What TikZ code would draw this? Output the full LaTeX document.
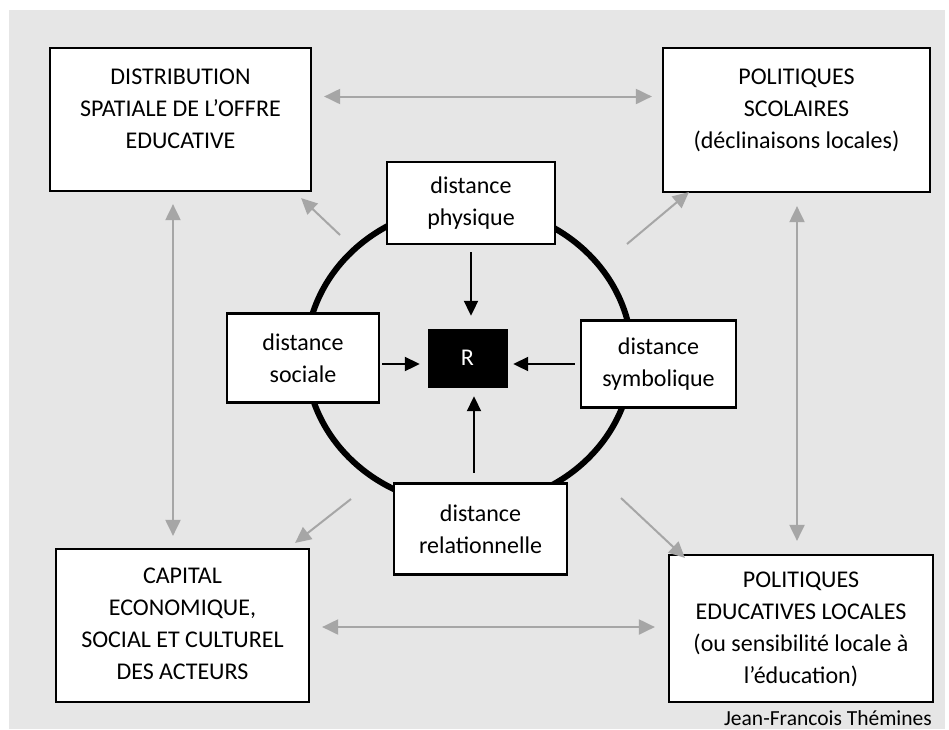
\documentclass[tikz,border=0pt]{standalone}
\usepackage{fontspec}
\setmainfont{Carlito}
\usetikzlibrary{arrows.meta}
\definecolor{bggray}{HTML}{E6E6E6}
\definecolor{arrgray}{HTML}{A6A6A6}
\newcommand{\lines}[1]{\begin{tabular}[t]{@{}c@{}}#1\end{tabular}}
\begin{document}
\begin{tikzpicture}[x=1pt,y=-1pt,
  bigbox/.style={draw=black, line width=2.2pt, fill=white, inner sep=0pt},
  smallbox/.style={draw=black, line width=2.2pt, fill=white, inner sep=0pt, font=\fontsize{24}{32}\selectfont, align=center},
  txt/.style={inner sep=0pt, font=\fontsize{24}{32}\selectfont, anchor=base},
  gtip/.tip={Triangle[length=16pt,width=15pt]},
  btip/.tip={Triangle[length=15pt,width=14pt]},
  garrow/.style={draw=arrgray, line width=2pt, -gtip},
  gdarrow/.style={draw=arrgray, line width=2pt, gtip-gtip},
  barrow/.style={draw=black, line width=2pt, -btip},
]
\useasboundingbox (0,0) rectangle (949,729);
\fill[bggray] (9,10) rectangle (945,729);

% ring
\draw[line width=6pt] (469,356) ellipse [x radius=163, y radius=150];

% big boxes
\node[bigbox, minimum width=261pt, minimum height=143pt] (dist) at (180.5,119.5) {};
\node[txt] (distT) at (180.5,84) {\lines{DISTRIBUTION\\SPATIALE DE L’OFFRE\\EDUCATIVE}};

\node[bigbox, minimum width=267pt, minimum height=144pt] (polsco) at (796.5,120) {};
\node[txt] (polscoT) at (796.5,84) {\lines{POLITIQUES\\SCOLAIRES\\(déclinaisons locales)}};

\node[bigbox, minimum width=253pt, minimum height=153pt] (capital) at (182.5,625.5) {};
\node[txt] (capitalT) at (182.5,583) {\lines{CAPITAL\\ECONOMIQUE,\\SOCIAL ET CULTUREL\\DES ACTEURS}};

\node[bigbox, minimum width=264pt, minimum height=147pt] (poledu) at (801,628.5) {};
\node[txt] (poleduT) at (801,587) {\lines{POLITIQUES\\EDUCATIVES LOCALES\\(ou sensibilité locale à\\l’éducation)}};

% small boxes
\node[smallbox, minimum width=168pt, minimum height=82pt] (phys) at (471,203) {distance\\physique};
\node[smallbox, minimum width=152pt, minimum height=89pt] (soc) at (303,358) {distance\\sociale};
\node[smallbox, minimum width=155pt, minimum height=87pt] (sym) at (658.5,364) {distance\\symbolique};
\node[smallbox, minimum width=173pt, minimum height=91pt] (rel) at (480.5,529) {distance\\relationnelle};
\node[draw=black, fill=black, text=white, inner sep=0pt, minimum width=79pt, minimum height=58pt, font=\fontsize{24}{28}\selectfont] (R) at (467.5,358) {R};

% black arrows to R
\draw[barrow] ([shift={(0,7)}]phys.south) -- ([shift={(3.5,-13)}]R.north);
\draw[barrow] ([shift={(2,6)}]soc.east) -- ([shift={(-8,6)}]R.west);
\draw[barrow] ([shift={(-5,0)}]sym.west) -- ([shift={(6,6)}]R.east);
\draw[barrow] ([shift={(-6.5,-9.5)}]rel.north) -- ([shift={(6.5,9)}]R.south);

% grey double arrows between big boxes
\draw[gdarrow] ([shift={(12,-23)}]dist.east) -- ([shift={(-10,-23.5)}]polsco.west);
\draw[gdarrow] ([shift={(12,1.5)}]capital.east) -- ([shift={(-13,-1.5)}]poledu.west);
\draw[gdarrow] ([shift={(-7.5,12)}]dist.south) -- ([shift={(-9.5,-12)}]capital.north);
\draw[gdarrow] ([shift={(0.5,13)}]polsco.south) -- ([shift={(-4,-13)}]poledu.north);

% grey arrows from the ring
\coordinate (nw) at (340,235);
\coordinate (ne) at (627,244);
\coordinate (sw) at (351,499);
\coordinate (se) at (621,498);
\draw[garrow] (nw) -- ([shift={(-11,6)}]dist.south east);
\draw[garrow] (ne) -- ([shift={(27,-1)}]polsco.south west);
\draw[garrow] (sw) -- ([shift={(-15,-5)}]capital.north east);
\draw[garrow] (se) -- ([shift={(17,4)}]poledu.north west);

% author
\node[anchor=base east, inner sep=0pt, font=\fontsize{21.5}{22}\selectfont] (author) at (932,725) {Jean-Francois Thémines};
\end{tikzpicture}
\end{document}
